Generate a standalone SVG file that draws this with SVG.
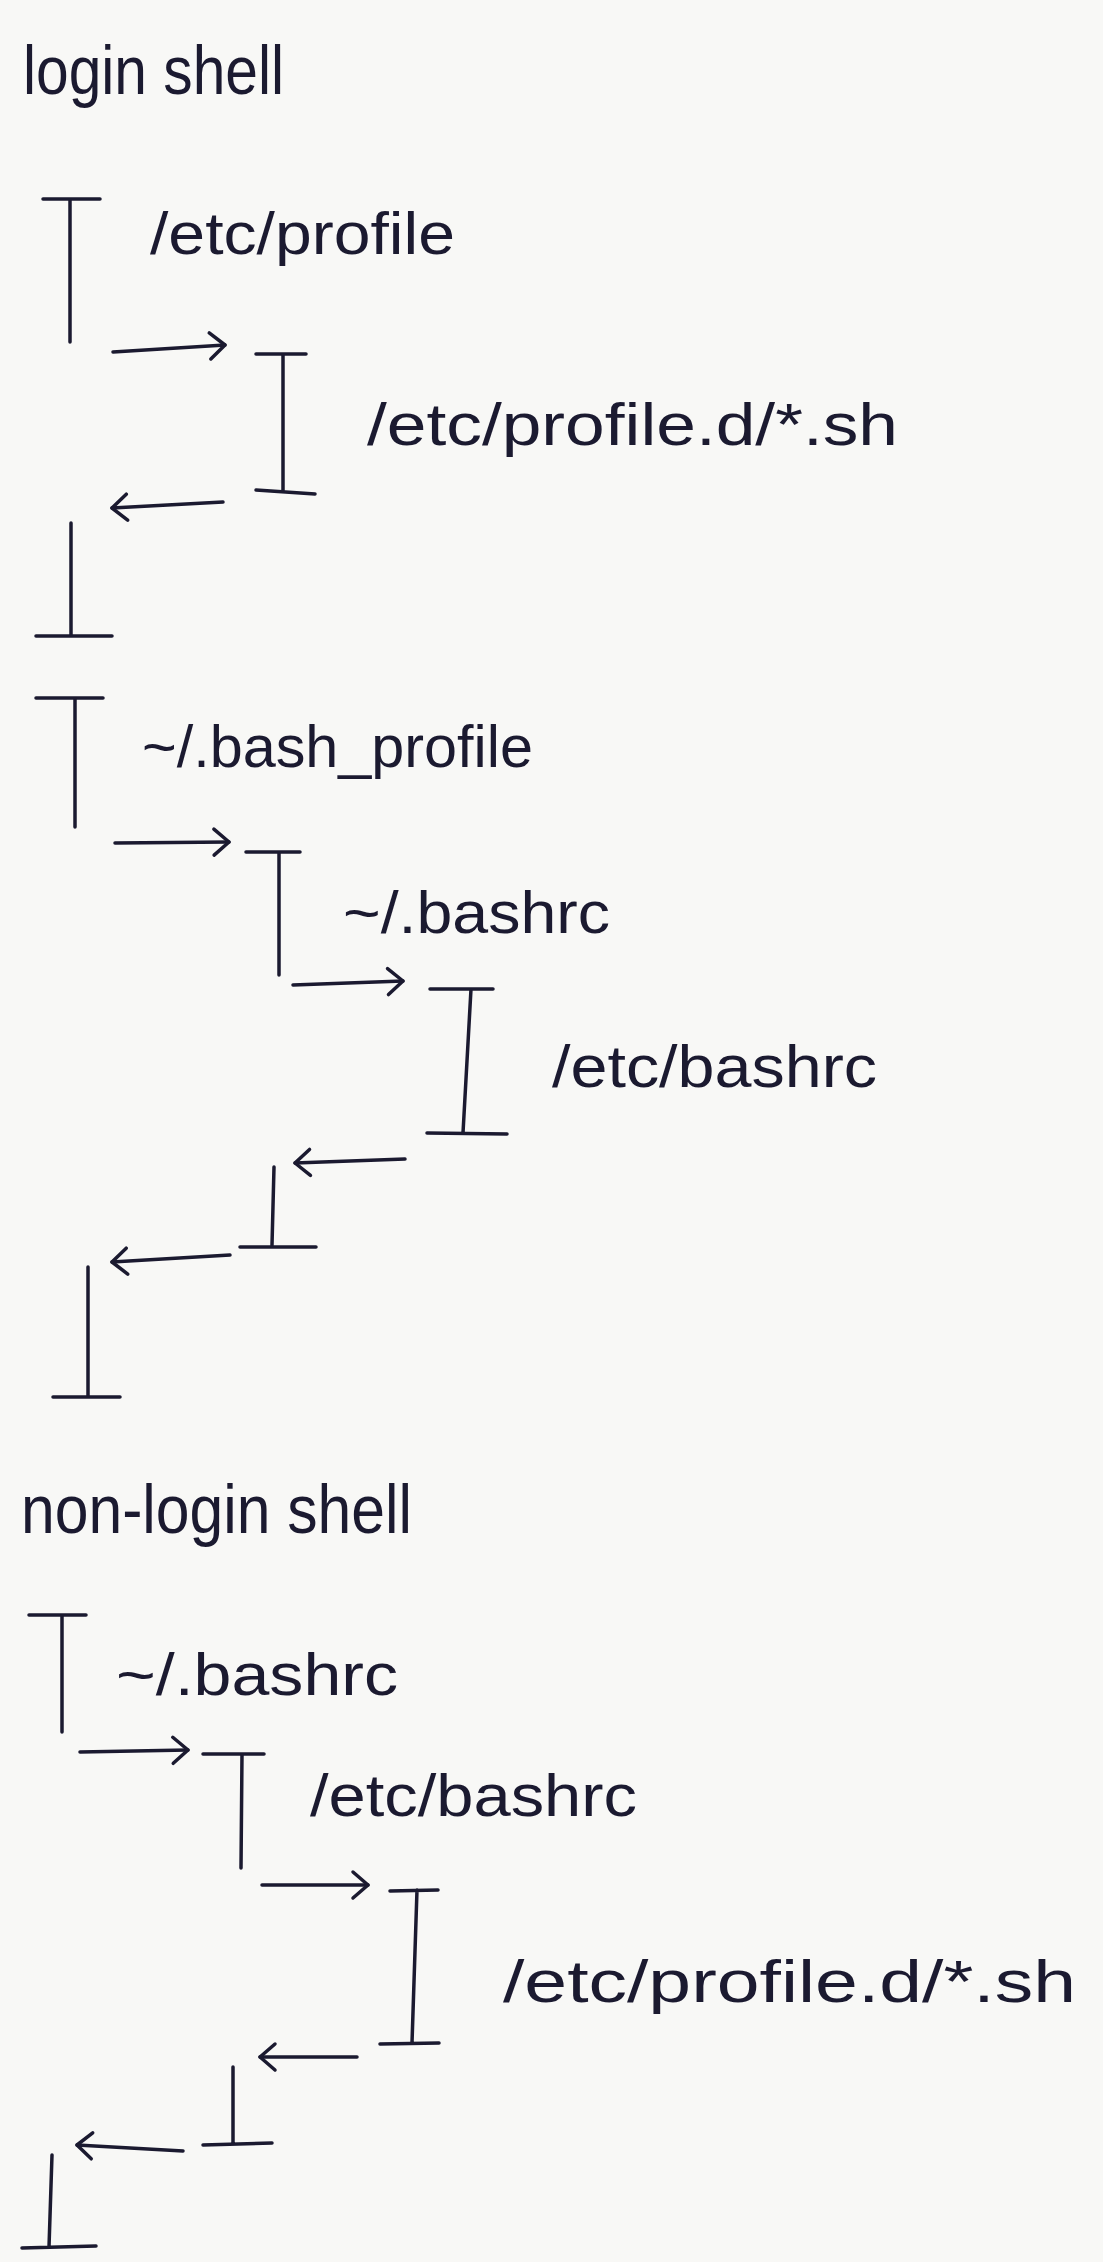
<svg xmlns="http://www.w3.org/2000/svg" width="1103" height="2262" viewBox="0 0 1103 2262">
  <style>
    .ink { fill: none; stroke: #1b1a30; stroke-width: 3.5; stroke-linecap: round; stroke-linejoin: round; }
    .lbl { font-family: "Liberation Sans", Arial, sans-serif; font-size: 60px; fill: #1b1a30; }
    .head { font-family: "Liberation Sans", Arial, sans-serif; font-size: 68px; fill: #1b1a30; }
  </style>
  <defs>
    <marker id="chev" markerUnits="userSpaceOnUse" markerWidth="40" markerHeight="40" viewBox="-20 -20 40 40" refX="0" refY="0" orient="auto">
      <path d="M-15,-13 L0,0 L-15,13" fill="none" stroke="#1b1a30" stroke-width="3.5" stroke-linecap="round" stroke-linejoin="round"/>
    </marker>
  </defs>
  <rect x="0" y="0" width="1103" height="2262" fill="#f8f8f6"/>

  <!-- headings -->
  <text id="login-shell" class="head" x="23" y="94" textLength="261" lengthAdjust="spacingAndGlyphs">login shell</text>
  <text id="non-login-shell" class="head" x="21" y="1533" textLength="391" lengthAdjust="spacingAndGlyphs">non-login shell</text>

  <!-- login shell nodes -->
  <g id="node-etc-profile">
    <path class="ink" d="M43,199 L100,199 M70,199 L70,342"/>
    <path class="ink" d="M71,523 L71,636 M36,636 L112,636"/>
    <text class="lbl" x="150" y="254" textLength="305" lengthAdjust="spacingAndGlyphs">/etc/profile</text>
  </g>
  <g id="node-etc-profile-d-login">
    <path class="ink" d="M256,354 L306,354 M283,354 L283,492 M256,490 L315,494"/>
    <text class="lbl" x="367" y="445" textLength="531" lengthAdjust="spacingAndGlyphs">/etc/profile.d/*.sh</text>
  </g>
  <g id="node-bash-profile">
    <path class="ink" d="M36,698 L103,698 M75,698 L75,827"/>
    <path class="ink" d="M88,1267 L88,1397 M53,1397 L120,1397"/>
    <text class="lbl" x="142" y="767" textLength="391" lengthAdjust="spacingAndGlyphs">~/.bash_profile</text>
  </g>
  <g id="node-bashrc-login">
    <path class="ink" d="M246,852 L300,852 M279,852 L279,975"/>
    <path class="ink" d="M274,1167 L272,1245 M240,1247 L316,1247"/>
    <text class="lbl" x="343" y="933" textLength="267" lengthAdjust="spacingAndGlyphs">~/.bashrc</text>
  </g>
  <g id="node-etc-bashrc-login">
    <path class="ink" d="M430,989 L493,989 M471,989 L463,1133 M427,1133 L507,1134"/>
    <text class="lbl" x="552" y="1087" textLength="325" lengthAdjust="spacingAndGlyphs">/etc/bashrc</text>
  </g>

  <!-- non-login shell nodes -->
  <g id="node-bashrc-nonlogin">
    <path class="ink" d="M29,1615 L86,1615 M62,1615 L62,1732"/>
    <path class="ink" d="M52,2155 L49,2247 M22,2248 L96,2246"/>
    <text class="lbl" x="116" y="1695" textLength="282" lengthAdjust="spacingAndGlyphs">~/.bashrc</text>
  </g>
  <g id="node-etc-bashrc-nonlogin">
    <path class="ink" d="M203,1754 L264,1754 M242,1754 L241,1868"/>
    <path class="ink" d="M233,2067 L233,2143 M203,2145 L272,2143"/>
    <text class="lbl" x="310" y="1816" textLength="327" lengthAdjust="spacingAndGlyphs">/etc/bashrc</text>
  </g>
  <g id="node-etc-profile-d-nonlogin">
    <path class="ink" d="M390,1891 L438,1890 M417,1890 L412,2043 M380,2044 L439,2043"/>
    <text class="lbl" x="503" y="2002" textLength="573" lengthAdjust="spacingAndGlyphs">/etc/profile.d/*.sh</text>
  </g>

  <!-- connectors -->
  <g id="connectors" class="ink" marker-end="url(#chev)">
    <path d="M113,352 L225,345"/>
    <path d="M223,502 L112,508"/>
    <path d="M115,843 L229,842"/>
    <path d="M293,985 L403,981"/>
    <path d="M405,1159 L295,1163"/>
    <path d="M230,1255 L112,1262"/>
    <path d="M80,1752 L188,1750"/>
    <path d="M262,1885 L368,1885"/>
    <path d="M357,2057 L260,2057"/>
    <path d="M183,2151 L77,2145"/>
  </g>
</svg>
